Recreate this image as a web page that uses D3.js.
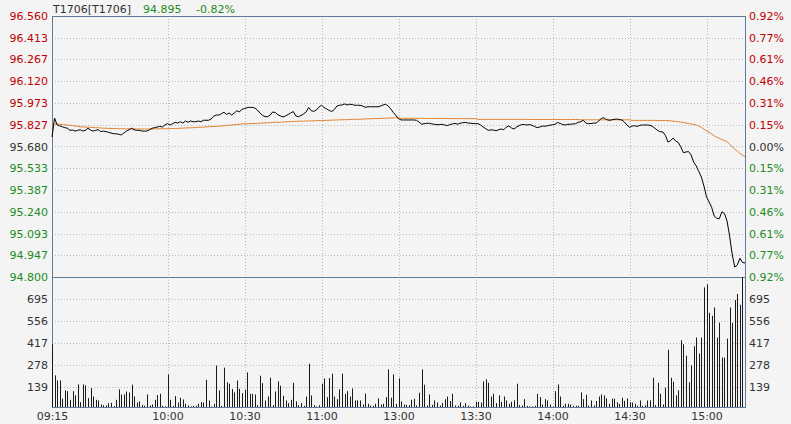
<!DOCTYPE html>
<html>
<head>
<meta charset="utf-8">
<script src="https://cdn.jsdelivr.net/npm/d3@7"></script>
<style>
  body { margin: 0; background: #f4f4f4; }
  svg { display: block; font-family: "DejaVu Sans", sans-serif; font-size: 11px; }
</style>
</head>
<body>
<div class="container"></div>
<script>
// tick labels
var priceTicks = [96.560, 96.413, 96.267, 96.120, 95.973, 95.827, 95.680, 95.533, 95.387, 95.240, 95.093, 94.947, 94.800];
var pctLabels = ["0.92%", "0.77%", "0.61%", "0.46%", "0.31%", "0.15%", "0.00%", "0.15%", "0.31%", "0.46%", "0.61%", "0.77%", "0.92%"];
var volTicks = [139, 278, 417, 556, 695];
var timeLabels = ["09:15", "10:00", "10:30", "11:00", "13:00", "13:30", "14:00", "14:30", "15:00"];
var timeIndex = [0, 45, 75, 105, 135, 165, 195, 225, 255];
var prevClose = 95.680;

// one value per minute, 09:15-11:30 then 13:01-15:15
var price = [
  95.744, 95.872, 95.825, 95.820, 95.813, 95.807, 95.803, 95.789, 95.791, 95.784,
  95.789, 95.793, 95.784, 95.789, 95.803, 95.791, 95.784, 95.789, 95.793, 95.780,
  95.784, 95.780, 95.776, 95.771, 95.766, 95.766, 95.762, 95.758, 95.771, 95.784,
  95.793, 95.803, 95.793, 95.789, 95.789, 95.784, 95.784, 95.784, 95.793, 95.803,
  95.807, 95.811, 95.816, 95.811, 95.825, 95.834, 95.825, 95.834, 95.843, 95.838,
  95.847, 95.838, 95.852, 95.843, 95.852, 95.847, 95.847, 95.852, 95.847, 95.857,
  95.857, 95.857, 95.865, 95.884, 95.892, 95.892, 95.901, 95.911, 95.896, 95.906,
  95.892, 95.906, 95.921, 95.913, 95.931, 95.936, 95.942, 95.944, 95.944, 95.940,
  95.926, 95.906, 95.890, 95.882, 95.881, 95.892, 95.913, 95.909, 95.894, 95.886,
  95.879, 95.886, 95.896, 95.906, 95.916, 95.886, 95.881, 95.889, 95.899, 95.913,
  95.943, 95.921, 95.917, 95.926, 95.946, 95.958, 95.943, 95.933, 95.923, 95.916,
  95.929, 95.953, 95.958, 95.960, 95.967, 95.960, 95.965, 95.963, 95.958, 95.958,
  95.958, 95.953, 95.944, 95.948, 95.948, 95.948, 95.948, 95.948, 95.953, 95.960,
  95.965, 95.953, 95.933, 95.909, 95.889, 95.868,
  95.859, 95.859, 95.859, 95.859, 95.859, 95.859, 95.857, 95.845, 95.830, 95.834,
  95.836, 95.837, 95.832, 95.830, 95.827, 95.828, 95.830, 95.825, 95.821, 95.828,
  95.832, 95.836, 95.830, 95.837, 95.840, 95.843, 95.838, 95.837, 95.835, 95.834,
  95.834, 95.825, 95.811, 95.800, 95.789, 95.792, 95.791, 95.786, 95.793, 95.798,
  95.793, 95.811, 95.818, 95.805, 95.798, 95.811, 95.821, 95.828, 95.828, 95.825,
  95.828, 95.823, 95.815, 95.807, 95.811, 95.818, 95.816, 95.820, 95.823, 95.827,
  95.830, 95.842, 95.835, 95.828, 95.825, 95.830, 95.830, 95.832, 95.834, 95.843,
  95.847, 95.857, 95.838, 95.834, 95.835, 95.838, 95.838, 95.852, 95.869, 95.874,
  95.862, 95.857, 95.859, 95.863, 95.865, 95.862, 95.859, 95.845, 95.825, 95.809,
  95.818, 95.820, 95.815, 95.823, 95.825, 95.825, 95.825, 95.823, 95.815, 95.801,
  95.788, 95.780, 95.778, 95.754, 95.710, 95.719, 95.737, 95.717, 95.707, 95.677,
  95.638, 95.643, 95.646, 95.623, 95.575, 95.549, 95.511, 95.474, 95.414, 95.340,
  95.306, 95.270, 95.211, 95.196, 95.193, 95.240, 95.228, 95.178, 95.076, 94.955,
  94.867, 94.881, 94.926, 94.898, 94.895
];

var avgPrice = [
  95.836, 95.834, 95.832, 95.830, 95.828, 95.826, 95.825, 95.823, 95.821, 95.819,
  95.816, 95.813, 95.812, 95.811, 95.810, 95.809, 95.808, 95.807, 95.806, 95.805,
  95.803, 95.803, 95.802, 95.802, 95.801, 95.801, 95.800, 95.800, 95.800, 95.799,
  95.799, 95.799, 95.799, 95.798, 95.798, 95.798, 95.798, 95.798, 95.798, 95.798,
  95.799, 95.799, 95.799, 95.800, 95.800, 95.800, 95.801, 95.801, 95.802, 95.802,
  95.803, 95.804, 95.805, 95.806, 95.806, 95.807, 95.808, 95.809, 95.810, 95.811,
  95.812, 95.813, 95.814, 95.815, 95.816, 95.817, 95.818, 95.820, 95.822, 95.824,
  95.825, 95.827, 95.829, 95.830, 95.832, 95.833, 95.834, 95.834, 95.835, 95.836,
  95.836, 95.837, 95.838, 95.839, 95.840, 95.841, 95.842, 95.843, 95.843, 95.844,
  95.845, 95.846, 95.847, 95.848, 95.849, 95.850, 95.850, 95.851, 95.851, 95.852,
  95.852, 95.853, 95.853, 95.854, 95.855, 95.855, 95.856, 95.856, 95.857, 95.858,
  95.858, 95.859, 95.860, 95.860, 95.861, 95.861, 95.862, 95.863, 95.863, 95.864,
  95.864, 95.865, 95.866, 95.866, 95.867, 95.868, 95.868, 95.869, 95.870, 95.870,
  95.871, 95.872, 95.872, 95.873, 95.874, 95.873,
  95.870, 95.870, 95.870, 95.870, 95.870, 95.870, 95.870, 95.870, 95.870, 95.870,
  95.869, 95.869, 95.869, 95.869, 95.869, 95.869, 95.869, 95.869, 95.869, 95.869,
  95.868, 95.868, 95.868, 95.868, 95.868, 95.868, 95.868, 95.868, 95.868, 95.868,
  95.863, 95.863, 95.863, 95.863, 95.863, 95.863, 95.863, 95.863, 95.863, 95.863,
  95.863, 95.863, 95.863, 95.863, 95.863, 95.863, 95.863, 95.863, 95.863, 95.863,
  95.862, 95.862, 95.862, 95.862, 95.862, 95.862, 95.862, 95.862, 95.862, 95.862,
  95.862, 95.862, 95.862, 95.862, 95.862, 95.862, 95.862, 95.862, 95.862, 95.862,
  95.860, 95.860, 95.860, 95.860, 95.860, 95.860, 95.860, 95.860, 95.860, 95.860,
  95.860, 95.860, 95.860, 95.860, 95.860, 95.860, 95.860, 95.860, 95.860, 95.860,
  95.856, 95.856, 95.856, 95.856, 95.856, 95.856, 95.856, 95.856, 95.856, 95.856,
  95.855, 95.855, 95.855, 95.855, 95.855, 95.853, 95.851, 95.849, 95.847, 95.844,
  95.841, 95.838, 95.835, 95.832, 95.829, 95.824, 95.818, 95.808, 95.797, 95.786,
  95.775, 95.764, 95.753, 95.742, 95.735, 95.727, 95.720, 95.712, 95.696, 95.679,
  95.664, 95.649, 95.634, 95.622, 95.611
];

var volume = [
  407, 210, 178, 178, 62, 115, 110, 55, 110, 83,
  153, 40, 153, 146, 66, 129, 76, 55, 51, 25,
  21, 19, 34, 36, 15, 55, 121, 89, 89, 108,
  102, 151, 76, 38, 45, 23, 17, 89, 19, 25,
  55, 85, 93, 17, 13, 216, 55, 17, 79, 38,
  68, 57, 30, 19, 13, 17, 17, 30, 40, 38,
  182, 51, 13, 30, 272, 115, 17, 259, 166, 157,
  123, 102, 178, 125, 98, 119, 229, 93, 93, 89,
  21, 208, 161, 51, 76, 195, 21, 108, 172, 144,
  81, 51, 34, 55, 163, 45, 21, 34, 17, 76,
  284, 83, 21, 13, 21, 157, 191, 72, 193, 221,
  76, 59, 121, 221, 93, 110, 76, 127, 51, 51,
  51, 25, 95, 30, 19, 17, 30, 64, 25, 30,
  72, 248, 68, 216, 30, 191,
  45, 25, 23, 21, 55, 62, 19, 100, 248, 151,
  19, 89, 23, 51, 38, 19, 34, 59, 76, 47,
  93, 19, 17, 38, 17, 34, 17, 13, 13, 42,
  42, 38, 172, 185, 163, 76, 93, 34, 83, 42,
  76, 51, 30, 42, 51, 157, 21, 19, 59, 17,
  13, 13, 17, 93, 72, 25, 59, 51, 25, 13,
  110, 153, 76, 17, 30, 30, 25, 17, 17, 17,
  102, 59, 87, 19, 51, 19, 47, 76, 89, 83,
  64, 30, 62, 62, 40, 28, 68, 49, 64, 40,
  38, 30, 17, 51, 17, 21, 51, 51, 195, 21,
  163, 93, 25, 132, 373, 195, 170, 83, 115, 433,
  407, 335, 166, 274, 395, 450, 348, 450, 768, 787,
  607, 588, 641, 450, 545, 323, 323, 443, 641, 543,
  688, 726, 658, 834
];

var W = 791, H = 424;
var plotL = 52, plotR = 745, plotT = 16, plotM = 277, plotB = 407;
var red = "#c00000", green = "#1c8c1c", grey = "#333", frame = "#5e7c99";

var svg = d3.select(".container").append('svg')
  .attr('width', W)
  .attr('height', H);

var x = d3.scaleLinear().domain([0, 270]).range([plotL, plotR]);
var yP = d3.scaleLinear().domain([94.800, 96.560]).range([plotM, plotT]);
var yV = d3.scaleLinear().domain([0, 834]).range([408.5, plotM]);

var px = function(v){ return Math.round(v) + 0.5; };

// grid lines (dotted)
var grid = svg.append('g').attr('stroke', '#b8b8b8').attr('stroke-dasharray', '1,2');
grid.selectAll('.hp').data(priceTicks.slice(1, -1)).enter().append('line')
  .attr('x1', plotL).attr('x2', plotR)
  .attr('y1', function(d){ return px(yP(d)); })
  .attr('y2', function(d){ return px(yP(d)); });
grid.selectAll('.hv').data(volTicks).enter().append('line')
  .attr('x1', plotL).attr('x2', plotR)
  .attr('y1', function(d){ return px(yV(d)); })
  .attr('y2', function(d){ return px(yV(d)); });
grid.selectAll('.vt').data(timeIndex.slice(1)).enter().append('line')
  .attr('y1', plotT).attr('y2', plotB)
  .attr('x1', function(d){ return px(x(d)); })
  .attr('x2', function(d){ return px(x(d)); });

// frame
var fr = svg.append('g').attr('stroke', frame).attr('fill', 'none');
fr.append('rect').attr('x', plotL + 0.5).attr('y', plotT + 0.5)
  .attr('width', plotR - plotL).attr('height', plotB - plotT);
fr.append('line').attr('x1', plotL).attr('x2', plotR + 1)
  .attr('y1', plotM + 0.5).attr('y2', plotM + 0.5);

// volume bars
svg.append('g').selectAll('line').data(volume).enter().append('line')
  .attr('stroke', '#1a1a1a')
  .attr('x1', function(d, i){ return px(x(i)); })
  .attr('x2', function(d, i){ return px(x(i)); })
  .attr('y1', plotB)
  .attr('y2', function(d){ return Math.max(plotM, yV(d)); });

// average price and price lines
var line = d3.line().x(function(d, i){ return x(i); });
svg.append('path').datum(avgPrice)
  .attr('fill', 'none').attr('stroke', '#e5812c').attr('stroke-width', 1)
  .attr('d', line.y(function(d){ return yP(d); }));
svg.append('path').datum(price)
  .attr('fill', 'none').attr('stroke', '#000').attr('stroke-width', 1)
  .attr('d', line.y(function(d){ return yP(d); }));

var colorOf = function(d){
  if (Math.abs(d - prevClose) < 0.0005) return grey;
  return d > prevClose ? red : green;
};

// left price axis
var gl = svg.append('g').attr('transform', 'translate(' + plotL + ',0)')
  .call(d3.axisLeft(yP).tickValues(priceTicks).tickFormat(d3.format('.3f')).tickSize(0).tickPadding(4));
gl.select('.domain').remove();
gl.selectAll('text').attr('fill', colorOf).style('font-size', '11px').style('font-family', '"DejaVu Sans", sans-serif');

// right percent axis
var gr = svg.append('g').attr('transform', 'translate(' + plotR + ',0)')
  .call(d3.axisRight(yP).tickValues(priceTicks).tickFormat(function(d, i){ return pctLabels[i]; }).tickSize(0).tickPadding(4));
gr.select('.domain').remove();
gr.selectAll('text').attr('fill', colorOf).style('font-size', '11px').style('font-family', '"DejaVu Sans", sans-serif');

// volume axes
[['axisLeft', plotL], ['axisRight', plotR]].forEach(function(a){
  var g = svg.append('g').attr('transform', 'translate(' + a[1] + ',0)')
    .call(d3[a[0]](yV).tickValues(volTicks).tickFormat(d3.format('d')).tickSize(0).tickPadding(4));
  g.select('.domain').remove();
  g.selectAll('text').attr('fill', grey).style('font-size', '11px').style('font-family', '"DejaVu Sans", sans-serif');
});

// time axis
var gb = svg.append('g').attr('transform', 'translate(0,' + plotB + ')')
  .call(d3.axisBottom(x).tickValues(timeIndex).tickFormat(function(d, i){ return timeLabels[i]; }).tickSize(0).tickPadding(5));
gb.select('.domain').remove();
gb.selectAll('text').attr('fill', grey).style('font-size', '11px').style('font-family', '"DejaVu Sans", sans-serif');

// header
var last = price[price.length - 1];
var chg = (last - prevClose) / prevClose * 100;
var head = svg.append('g').attr('transform', 'translate(0,13)');
head.append('text').attr('x', 53).attr('fill', grey).text('T1706[T1706]');
head.append('text').attr('x', 143).attr('fill', green).text(last.toFixed(3));
head.append('text').attr('x', 196).attr('fill', green).text(chg.toFixed(2) + '%');
</script>
</body>
</html>
